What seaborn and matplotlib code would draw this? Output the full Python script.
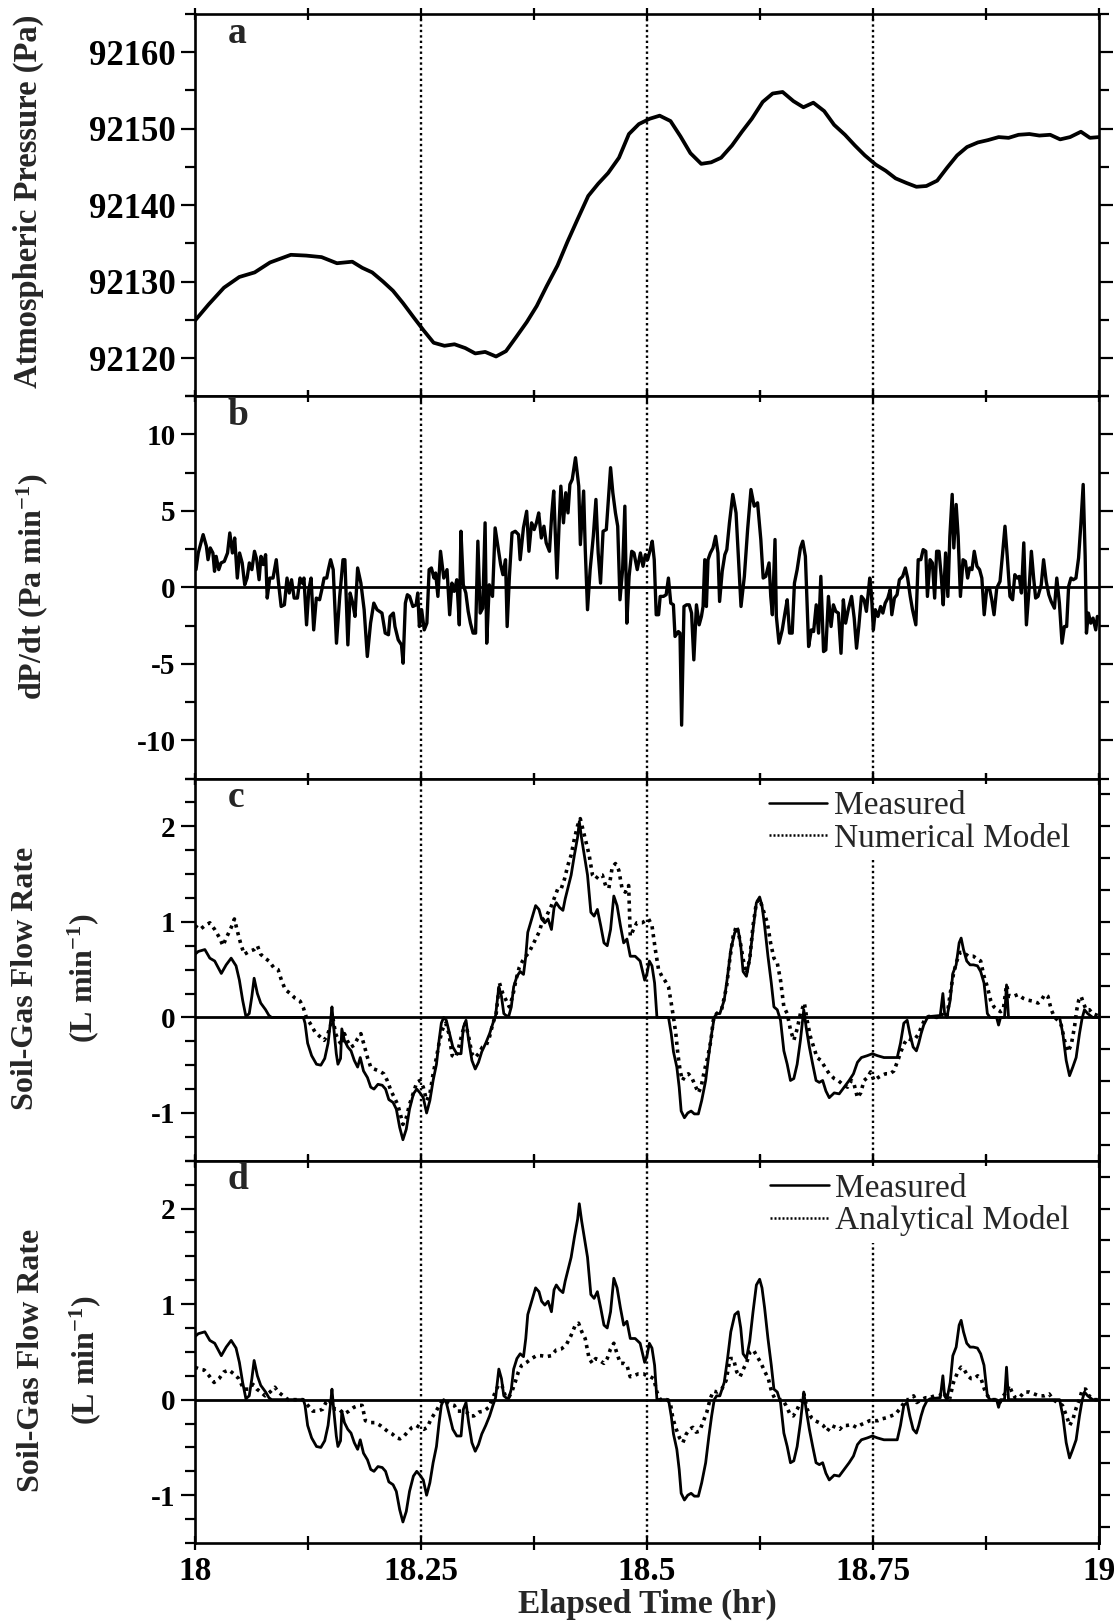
import matplotlib
matplotlib.use("Agg")
import matplotlib.pyplot as plt
from matplotlib.ticker import MultipleLocator, FixedLocator, FixedFormatter
from matplotlib.lines import Line2D
import seaborn as sns

# ---------------- data ----------------
# (a) atmospheric pressure, Pa
t_a = [18.000, 18.015, 18.032, 18.049, 18.066, 18.083, 18.106, 18.123, 18.140, 18.157,
       18.174, 18.185, 18.196, 18.208, 18.219, 18.230, 18.242, 18.253, 18.264, 18.276,
       18.287, 18.299, 18.310, 18.321, 18.333, 18.344, 18.355, 18.367, 18.378, 18.389,
       18.401, 18.412, 18.423, 18.435, 18.446, 18.457, 18.469, 18.480, 18.491, 18.503,
       18.514, 18.526, 18.537, 18.548, 18.560, 18.571, 18.582, 18.594, 18.605, 18.616,
       18.628, 18.639, 18.650, 18.662, 18.673, 18.684, 18.696, 18.707, 18.719, 18.730,
       18.741, 18.753, 18.764, 18.775, 18.787, 18.798, 18.809, 18.821, 18.832, 18.843,
       18.854, 18.866, 18.877, 18.889, 18.900, 18.911, 18.923, 18.934, 18.946, 18.957,
       18.968, 18.980, 18.990, 19.000]
p_a = [92124.9, 92127.0, 92129.2, 92130.6, 92131.2, 92132.5, 92133.5, 92133.4, 92133.2, 92132.4,
       92132.6, 92131.8, 92131.2, 92130.0, 92128.8, 92127.2, 92125.3, 92123.6, 92122.0, 92121.6,
       92121.8, 92121.3, 92120.6, 92120.8, 92120.2, 92120.9, 92122.7, 92124.7, 92126.8, 92129.4,
       92132.1, 92135.2, 92138.1, 92141.2, 92142.8, 92144.2, 92146.2, 92149.3, 92150.6, 92151.3,
       92151.7, 92151.0, 92149.0, 92146.8, 92145.4, 92145.6, 92146.2, 92147.8, 92149.6, 92151.3,
       92153.5, 92154.6, 92154.8, 92153.6, 92152.8, 92153.4, 92152.3, 92150.5, 92149.2, 92147.8,
       92146.5, 92145.3, 92144.5, 92143.5, 92142.9, 92142.4, 92142.5, 92143.2, 92144.9, 92146.5,
       92147.6, 92148.2, 92148.5, 92148.9, 92148.8, 92149.2, 92149.3, 92149.1, 92149.2, 92148.6,
       92148.9, 92149.6, 92148.8, 92148.9]

# (b) dP/dt, Pa/min
t_b = [18.0011, 18.0036, 18.0090, 18.0126, 18.0144, 18.0169, 18.0198, 18.0216, 18.0234, 18.0263,
       18.0288, 18.0324, 18.0360, 18.0385, 18.0414, 18.0439, 18.0468, 18.0493, 18.0522, 18.0550,
       18.0576, 18.0601, 18.0629, 18.0658, 18.0683, 18.0709, 18.0730, 18.0755, 18.0781, 18.0799,
       18.0827, 18.0863, 18.0899, 18.0924, 18.0953, 18.0989, 18.1018, 18.1043, 18.1068, 18.1097,
       18.1133, 18.1162, 18.1187, 18.1205, 18.1234, 18.1259, 18.1284, 18.1313, 18.1342, 18.1378,
       18.1403, 18.1428, 18.1457, 18.1475, 18.1500, 18.1529, 18.1565, 18.1601, 18.1637, 18.1658,
       18.1691, 18.1716, 18.1745, 18.1770, 18.1799, 18.1835, 18.1871, 18.1906, 18.1942, 18.1978,
       18.2014, 18.2068, 18.2104, 18.2140, 18.2158, 18.2194, 18.2212, 18.2248, 18.2284, 18.2302,
       18.2327, 18.2349, 18.2374, 18.2410, 18.2446, 18.2464, 18.2482, 18.2507, 18.2536, 18.2565,
       18.2590, 18.2615, 18.2644, 18.2662, 18.2687, 18.2716, 18.2752, 18.2788, 18.2817, 18.2842,
       18.2867, 18.2896, 18.2924, 18.2942, 18.2968, 18.2996, 18.3022, 18.3047, 18.3076, 18.3104,
       18.3129, 18.3155, 18.3183, 18.3209, 18.3227, 18.3255, 18.3291, 18.3320, 18.3345, 18.3381,
       18.3406, 18.3435, 18.3453, 18.3478, 18.3507, 18.3543, 18.3579, 18.3597, 18.3633, 18.3669,
       18.3694, 18.3723, 18.3752, 18.3777, 18.3802, 18.3831, 18.3860, 18.3885, 18.3921, 18.3946,
       18.3968, 18.4004, 18.4029, 18.4047, 18.4076, 18.4101, 18.4126, 18.4147, 18.4173, 18.4209,
       18.4245, 18.4263, 18.4299, 18.4317, 18.4342, 18.4371, 18.4388, 18.4406, 18.4435, 18.4460,
       18.4486, 18.4514, 18.4550, 18.4568, 18.4597, 18.4622, 18.4651, 18.4676, 18.4701, 18.4730,
       18.4755, 18.4777, 18.4802, 18.4831, 18.4856, 18.4892,
       18.4927, 18.4956, 18.4982, 18.5007, 18.5036, 18.5058, 18.5080, 18.5102, 18.5128, 18.5146,
       18.5182, 18.5212, 18.5237, 18.5263, 18.5292, 18.5310, 18.5347, 18.5365, 18.5383, 18.5409,
       18.5438, 18.5467, 18.5493, 18.5518, 18.5547, 18.5577, 18.5602, 18.5620, 18.5639, 18.5657,
       18.5675, 18.5701, 18.5730, 18.5759, 18.5785, 18.5803, 18.5832, 18.5861, 18.5883, 18.5912,
       18.5949, 18.5985, 18.6015, 18.6040, 18.6077, 18.6113, 18.6150, 18.6186, 18.6223, 18.6259,
       18.6285, 18.6314, 18.6350, 18.6369, 18.6387, 18.6416, 18.6431, 18.6460, 18.6496, 18.6526,
       18.6551, 18.6577, 18.6606, 18.6631, 18.6661, 18.6697, 18.6723, 18.6752, 18.6788, 18.6818,
       18.6843, 18.6872, 18.6898, 18.6923, 18.6953, 18.6978, 18.7007, 18.7036, 18.7062, 18.7088,
       18.7117, 18.7146, 18.7172, 18.7197, 18.7226, 18.7263, 18.7292, 18.7318, 18.7343, 18.7372,
       18.7401, 18.7427, 18.7464, 18.7482, 18.7504, 18.7526, 18.7555, 18.7584, 18.7609, 18.7635,
       18.7664, 18.7690, 18.7708, 18.7737, 18.7766, 18.7792, 18.7828, 18.7858, 18.7883, 18.7912,
       18.7937, 18.7974, 18.8000, 18.8029, 18.8055, 18.8084, 18.8102, 18.8131, 18.8157, 18.8182,
       18.8204, 18.8230, 18.8255, 18.8277, 18.8303, 18.8328, 18.8350, 18.8376, 18.8394, 18.8420,
       18.8442, 18.8467, 18.8496, 18.8522, 18.8547, 18.8569, 18.8595, 18.8620, 18.8650, 18.8679,
       18.8704, 18.8730, 18.8759, 18.8788, 18.8814, 18.8839, 18.8869, 18.8905, 18.8934, 18.8960,
       18.8985, 18.9015, 18.9044, 18.9069, 18.9095, 18.9117, 18.9142, 18.9168, 18.9197, 18.9226,
       18.9252, 18.9277, 18.9299, 18.9325, 18.9361, 18.9387, 18.9416, 18.9445, 18.9471, 18.9507,
       18.9533, 18.9562, 18.9591, 18.9617, 18.9642, 18.9664, 18.9690, 18.9715, 18.9745, 18.9774,
       18.9799, 18.9825, 18.9847, 18.9861, 18.9883, 18.9909, 18.9934, 18.9964, 18.9982]
dpdt_b = [1.16, 2.25, 3.45, 2.69, 1.81, 2.58, 2.25, 1.05, 2.03, 1.16,
          1.60, 1.70, 2.25, 3.56, 2.25, 3.23, 0.61, 2.25, 1.60, 0.17,
          0.61, 1.60, 1.16, 2.36, 1.81, 0.50, 2.03, 1.49, 2.14, -0.70,
          0.61, 0.61, 1.81, 0.28, -1.25, -1.14, 0.61, -0.37, 0.50, -0.70,
          -0.70, 0.61, 0.28, 0.61, -2.45, -0.15, 0.61, -2.78, -0.70, -0.81,
          -0.15, 0.61, 0.61, 1.16, 1.81, 1.16, -3.65, -0.59, 1.81, 1.81,
          -3.76, -0.37, -1.03, -1.90, 1.27, 0.28, -1.46, -4.52, -2.34, -1.03,
          -1.46, -1.68, -2.99, -3.10, -1.90, -1.68, -2.56, -3.43, -3.76, -4.96,
          -1.03, -0.48, -0.59, -1.25, -1.14, -0.37, -2.56, -1.46, -2.78, -2.34,
          1.16, 1.27, 0.61, 0.94, -0.59, 2.36, 0.61, 1.16, -1.79, 0.28,
          -0.26, 0.50, -2.45, 3.67, 0.17, -0.37, -1.57, -2.34, -2.99, -2.99,
          3.02, -1.68, -1.36, 4.22, -3.65, 0.17, -0.59, 3.89, 2.91, 1.49,
          0.83, 1.81, -2.56, 0.72, 3.56, 3.67, 3.45, 1.81, 3.89, 4.98,
          2.36, 4.22, 3.78, 4.22, 4.87, 3.23, 4.00, 2.91, 2.36, 4.77,
          6.30, 0.61, 4.33, 6.62, 4.22, 6.19, 4.87, 6.73, 7.06, 8.48,
          6.62, 2.80, 6.30, 2.47, -1.46, 1.16, 2.25, 3.34, 5.75, 2.25,
          0.28, 3.67, 3.78, 5.31, 7.83, 6.19, 4.87, 4.00, -0.81, 1.16,
          5.31, -2.34, 0.72, 2.36, 2.25, 1.16,
          2.25, 1.38, 2.14, 1.81, 2.47, 3.02, 1.81, -1.79, -1.79, -0.59,
          -0.59, -0.48, 0.61, -1.03, -1.14, -3.21, -2.89, -2.99, -9.01, -1.25,
          -1.14, -1.14, -1.68, -4.74, -1.14, -2.45, -1.90, -1.25, 1.81, -1.25,
          1.81, 2.25, 2.58, 3.34, 2.25, -0.92, 1.05, 2.14, 2.47, 4.22,
          6.08, 4.87, 1.60, -1.25, 0.72, 3.78, 6.40, 5.31, 5.53, 3.13,
          0.61, 0.72, 1.60, -0.59, -1.79, 3.13, -1.90, -3.65, -2.78, -1.68,
          -0.81, -2.99, -2.99, 0.28, 1.16, 2.58, 3.02, 2.03, -3.87, -2.78,
          -2.89, -1.14, -2.99, 0.72, -4.20, -4.09, -0.59, -2.56, -1.14, -1.57,
          -1.68, -4.31, -0.81, -2.34, -1.46, -0.59, -2.01, -3.98, -2.56, -0.59,
          -0.81, -1.57, 0.61, -0.37, -2.78, -1.46, -1.90, -1.25, -1.68, -1.03,
          -0.70, -0.15, -1.79, -0.70, -0.48, 0.50, 0.72, 1.27, 0.61, -0.59,
          -1.46, -2.45, 1.81, 1.81, 2.47, 2.36, -0.59, 1.81, 1.60, -0.70,
          2.36, 2.36, 0.72, -1.14, 2.25, -0.59, 3.34, 6.08, 2.58, 5.42,
          3.34, -0.59, 1.81, 1.70, 0.61, 1.27, 1.16, 2.36, 1.38, 1.16,
          0.61, -1.79, -0.04, -0.04, -0.81, -1.79, -0.04, 0.39, 2.25, 4.00,
          2.03, -0.59, -0.81, 0.83, 0.61, 0.72, -0.37, 2.91, -2.45, -0.15,
          2.36, 0.61, -0.70, -0.59, 0.17, 1.81, 0.39, -0.48, -0.92, -1.36,
          0.61, -1.03, -3.65, -2.56, -2.56, 0.07, 0.61, 0.50, 0.61, 1.92,
          4.11, 6.73, 2.03, -2.99, -1.68, -2.34, -2.01, -2.78, -1.90]

# measured soil-gas flow rate, L/min (panels c and d)
t_meas = [18.0000, 18.0036, 18.0109, 18.0164, 18.0218, 18.0291, 18.0345, 18.0400, 18.0454, 18.0491,
          18.0527, 18.0563, 18.0600, 18.0629, 18.0654, 18.0690, 18.0727, 18.0781, 18.0818, 18.0847,
          18.1199, 18.1217, 18.1246, 18.1290, 18.1344, 18.1392, 18.1435, 18.1472, 18.1501, 18.1515,
          18.1537, 18.1563, 18.1581, 18.1610, 18.1624, 18.1653, 18.1690, 18.1726, 18.1762, 18.1799,
          18.1828, 18.1864, 18.1908, 18.1944, 18.1980, 18.2024, 18.2071, 18.2108, 18.2144, 18.2191,
          18.2227, 18.2264, 18.2300, 18.2337, 18.2373, 18.2416, 18.2453, 18.2489, 18.2525, 18.2562,
          18.2598, 18.2634, 18.2671, 18.2700, 18.2725, 18.2751, 18.2780, 18.2816, 18.2852, 18.2896,
          18.2943, 18.2969, 18.2998, 18.3027, 18.3063, 18.3100, 18.3136, 18.3172, 18.3216, 18.3259,
          18.3296, 18.3325, 18.3361, 18.3390, 18.3416, 18.3441, 18.3470, 18.3499, 18.3525, 18.3561,
          18.3597, 18.3634, 18.3659, 18.3681, 18.3725, 18.3768, 18.3805, 18.3834, 18.3870, 18.3906,
          18.3943, 18.3972, 18.3997, 18.4033, 18.4070, 18.4095, 18.4124, 18.4161, 18.4197, 18.4233,
          18.4251, 18.4277, 18.4306, 18.4342, 18.4379, 18.4415, 18.4451, 18.4488, 18.4524, 18.4560,
          18.4597, 18.4633, 18.4669, 18.4706, 18.4742, 18.4778, 18.4815, 18.4869, 18.4924, 18.4974,
          18.5000, 18.5026, 18.5055, 18.5084, 18.5110, 18.5238, 18.5268, 18.5293, 18.5330, 18.5356,
          18.5378, 18.5414, 18.5451, 18.5488, 18.5524, 18.5568, 18.5605, 18.5649, 18.5685, 18.5715,
          18.5744, 18.5770, 18.5806, 18.5854, 18.5891, 18.5927, 18.5971, 18.6008, 18.6037, 18.6063,
          18.6100, 18.6136, 18.6173, 18.6210, 18.6246, 18.6272, 18.6301, 18.6338, 18.6375, 18.6404,
          18.6441, 18.6477, 18.6514, 18.6551, 18.6587, 18.6624, 18.6661, 18.6697, 18.6734, 18.6760,
          18.6796, 18.6833, 18.6870, 18.6906, 18.6943, 18.6979, 18.7016, 18.7071, 18.7126, 18.7181,
          18.7236, 18.7284, 18.7328, 18.7372, 18.7438, 18.7493, 18.7548, 18.7621, 18.7694, 18.7768,
          18.7804, 18.7841, 18.7878, 18.7907, 18.7944, 18.7980, 18.8006, 18.8032, 18.8061, 18.8098,
          18.8134, 18.8244, 18.8273, 18.8292, 18.8317, 18.8354, 18.8383, 18.8420, 18.8453, 18.8475,
          18.8501, 18.8537, 18.8574, 18.8611, 18.8655, 18.8691, 18.8728, 18.8765, 18.8794, 18.8867,
          18.8889, 18.8911, 18.8955, 18.8977, 18.8999, 18.9564, 18.9600, 18.9637, 18.9674, 18.9710,
          18.9747, 18.9784, 18.9813, 18.9839, 18.9875, 18.9930, 18.9985]
q_meas = [0.66, 0.69, 0.71, 0.62, 0.59, 0.46, 0.55, 0.62, 0.54, 0.39,
          0.18, 0.01, 0.04, 0.22, 0.41, 0.25, 0.15, 0.08, 0.02, 0.00,
          0.00, -0.06, -0.27, -0.40, -0.49, -0.50, -0.43, -0.27, -0.03, 0.11,
          -0.13, -0.38, -0.49, -0.43, -0.12, -0.24, -0.31, -0.35, -0.45, -0.52,
          -0.42, -0.56, -0.63, -0.73, -0.75, -0.70, -0.71, -0.75, -0.86, -0.89,
          -0.96, -1.15, -1.28, -1.17, -0.96, -0.80, -0.75, -0.79, -0.84, -1.00,
          -0.87, -0.66, -0.49, -0.24, -0.06, 0.00, -0.03, -0.17, -0.31, -0.38,
          -0.38, -0.10, -0.03, -0.24, -0.45, -0.54, -0.47, -0.36, -0.27, -0.17,
          -0.06, 0.02, 0.32, 0.22, 0.04, 0.02, 0.01, 0.11, 0.32, 0.43,
          0.48, 0.45, 0.64, 0.89, 1.03, 1.17, 1.13, 1.03, 0.99, 1.03,
          0.92, 1.15, 1.20, 1.15, 1.12, 1.24, 1.35, 1.49, 1.70, 1.89,
          2.05, 1.87, 1.70, 1.49, 1.10, 1.06, 1.13, 0.96, 0.78, 0.75,
          0.92, 1.27, 1.17, 0.96, 0.78, 0.82, 0.64, 0.64, 0.59, 0.39,
          0.46, 0.59, 0.54, 0.36, 0.00, 0.00, -0.17, -0.36, -0.52, -0.73,
          -0.98, -1.05, -1.00, -0.98, -1.01, -1.01, -0.87, -0.66, -0.38, -0.17,
          0.00, 0.04, 0.04, 0.18, 0.43, 0.71, 0.89, 0.92, 0.75, 0.48,
          0.43, 0.61, 0.92, 1.20, 1.26, 1.17, 0.96, 0.64, 0.36, 0.11,
          0.08, -0.03, -0.35, -0.49, -0.66, -0.64, -0.49, -0.24, 0.08, -0.10,
          -0.31, -0.49, -0.66, -0.68, -0.66, -0.77, -0.84, -0.79, -0.80, -0.73,
          -0.66, -0.59, -0.47, -0.42, -0.40, -0.38, -0.40, -0.42, -0.42, -0.42,
          -0.27, -0.06, -0.03, -0.17, -0.31, -0.35, -0.27, -0.17, -0.08, -0.01,
          0.01, 0.02, 0.25, 0.04, 0.00, 0.18, 0.46, 0.55, 0.78, 0.83,
          0.71, 0.59, 0.55, 0.55, 0.54, 0.48, 0.36, 0.04, 0.00, 0.00,
          -0.08, 0.00, 0.00, 0.34, 0.00, 0.00, -0.17, -0.45, -0.61, -0.52,
          -0.42, -0.17, -0.01, 0.08, 0.04, 0.00, 0.00]

# numerical model, L/min (panel c)
t_num = [18.0000, 18.0055, 18.0109, 18.0164, 18.0218, 18.0273, 18.0309, 18.0345, 18.0400, 18.0436,
         18.0472, 18.0509, 18.0545, 18.0600, 18.0654, 18.0690, 18.0727, 18.0774, 18.0818, 18.0872,
         18.0919, 18.0956, 18.0999, 18.1054, 18.1108, 18.1163, 18.1199, 18.1235, 18.1272, 18.1326,
         18.1381, 18.1428, 18.1464, 18.1501, 18.1526, 18.1555, 18.1588, 18.1624, 18.1653, 18.1682,
         18.1726, 18.1762, 18.1799, 18.1835, 18.1871, 18.1908, 18.1944, 18.1980, 18.2035, 18.2089,
         18.2126, 18.2169, 18.2206, 18.2242, 18.2271, 18.2300, 18.2337, 18.2373, 18.2416, 18.2453,
         18.2489, 18.2525, 18.2562, 18.2598, 18.2634, 18.2671, 18.2700, 18.2736, 18.2773, 18.2809,
         18.2845, 18.2882, 18.2918, 18.2954, 18.2991, 18.3027, 18.3063, 18.3100, 18.3136, 18.3180,
         18.3223, 18.3259, 18.3296, 18.3332, 18.3368, 18.3405, 18.3441, 18.3477, 18.3514, 18.3550,
         18.3586, 18.3623, 18.3659, 18.3695, 18.3732, 18.3768, 18.3805, 18.3852, 18.3888, 18.3943,
         18.3979, 18.4015, 18.4052, 18.4088, 18.4124, 18.4161, 18.4197, 18.4233, 18.4262, 18.4288,
         18.4324, 18.4360, 18.4397, 18.4433, 18.4469, 18.4506, 18.4542, 18.4578, 18.4615, 18.4651,
         18.4688, 18.4724, 18.4760, 18.4797, 18.4815, 18.4851, 18.4887, 18.4945, 18.5018, 18.5055,
         18.5092, 18.5128, 18.5165, 18.5202, 18.5238, 18.5268, 18.5293, 18.5319, 18.5341, 18.5367,
         18.5392, 18.5422, 18.5458, 18.5495, 18.5532, 18.5568, 18.5598, 18.5634, 18.5671, 18.5707,
         18.5733, 18.5770, 18.5825, 18.5880, 18.5916, 18.5953, 18.5990, 18.6026, 18.6063, 18.6100,
         18.6136, 18.6173, 18.6210, 18.6246, 18.6283, 18.6331, 18.6367, 18.6404, 18.6441, 18.6477,
         18.6514, 18.6551, 18.6587, 18.6624, 18.6661, 18.6697, 18.6741, 18.6771, 18.6807, 18.6844,
         18.6881, 18.6924, 18.6968, 18.7016, 18.7071, 18.7115, 18.7163, 18.7218, 18.7262, 18.7291,
         18.7328, 18.7364, 18.7401, 18.7438, 18.7474, 18.7511, 18.7555, 18.7592, 18.7639, 18.7687,
         18.7731, 18.7775, 18.7812, 18.7848, 18.7885, 18.7933, 18.7969, 18.8006, 18.8043, 18.8079,
         18.8116, 18.8207, 18.8244, 18.8281, 18.8317, 18.8354, 18.8391, 18.8427, 18.8464, 18.8501,
         18.8556, 18.8611, 18.8655, 18.8691, 18.8728, 18.8765, 18.8801, 18.8838, 18.8875, 18.8911,
         18.8941, 18.8977, 18.9007, 18.9051, 18.9106, 18.9161, 18.9216, 18.9271, 18.9326, 18.9362,
         18.9399, 18.9435, 18.9472, 18.9509, 18.9545, 18.9582, 18.9619, 18.9655, 18.9692, 18.9729,
         18.9754, 18.9776, 18.9802, 18.9828, 18.9857, 18.9894, 18.9930, 18.9985]
q_num = [0.96, 0.92, 0.96, 0.99, 0.92, 0.83, 0.75, 0.83, 0.94, 1.03,
         0.89, 0.76, 0.66, 0.69, 0.71, 0.75, 0.66, 0.62, 0.59, 0.52,
         0.50, 0.39, 0.29, 0.25, 0.20, 0.17, 0.10, -0.01, -0.06, -0.15,
         -0.20, -0.24, -0.19, -0.08, -0.01, -0.17, -0.24, -0.29, -0.17, -0.24,
         -0.31, -0.29, -0.22, -0.17, -0.29, -0.42, -0.52, -0.54, -0.56, -0.59,
         -0.66, -0.77, -0.84, -0.91, -1.01, -1.12, -1.05, -0.91, -0.79, -0.68,
         -0.66, -0.73, -0.87, -0.80, -0.59, -0.42, -0.27, -0.13, -0.06, -0.17,
         -0.40, -0.42, -0.31, -0.17, -0.06, -0.20, -0.38, -0.42, -0.38, -0.31,
         -0.29, -0.20, -0.06, 0.04, 0.36, 0.25, 0.18, 0.11, 0.22, 0.39,
         0.52, 0.59, 0.64, 0.68, 0.75, 0.82, 0.89, 1.03, 1.06, 1.17,
         1.26, 1.35, 1.35, 1.45, 1.59, 1.70, 1.87, 2.01, 2.08, 1.98,
         1.84, 1.70, 1.49, 1.45, 1.49, 1.49, 1.38, 1.35, 1.57, 1.61,
         1.54, 1.35, 1.31, 1.38, 0.85, 0.92, 0.99, 0.99, 1.03, 0.96,
         0.71, 0.50, 0.43, 0.38, 0.32, 0.15, 0.00, -0.17, -0.38, -0.56,
         -0.66, -0.61, -0.59, -0.63, -0.71, -0.79, -0.73, -0.56, -0.42, -0.24,
         -0.03, 0.04, 0.08, 0.32, 0.61, 0.85, 0.96, 0.82, 0.61, 0.46,
         0.61, 0.96, 1.20, 1.24, 1.13, 0.99, 0.78, 0.62, 0.57, 0.39,
         0.11, 0.04, -0.13, -0.24, -0.12, 0.04, 0.15, -0.03, -0.20, -0.31,
         -0.42, -0.45, -0.52, -0.59, -0.64, -0.66, -0.70, -0.73, -0.66, -0.70,
         -0.84, -0.79, -0.66, -0.63, -0.57, -0.66, -0.63, -0.61, -0.59, -0.59,
         -0.56, -0.45, -0.35, -0.27, -0.22, -0.24, -0.22, -0.17, -0.08, -0.01,
         0.01, 0.00, 0.04, 0.02, 0.00, 0.25, 0.46, 0.59, 0.68, 0.68,
         0.64, 0.64, 0.61, 0.59, 0.43, 0.32, 0.18, 0.11, 0.08, 0.06,
         0.08, 0.34, 0.22, 0.22, 0.24, 0.20, 0.18, 0.17, 0.15, 0.18,
         0.24, 0.22, 0.08, 0.00, -0.03, -0.08, -0.24, -0.36, -0.29, -0.10,
         0.08, 0.18, 0.22, 0.15, 0.08, 0.08, 0.04, 0.02]

# analytical model, L/min (panel d)
t_ana = [18.0000, 18.0047, 18.0102, 18.0156, 18.0211, 18.0266, 18.0320, 18.0375, 18.0429, 18.0484,
         18.0539, 18.0593, 18.0641, 18.0684, 18.0728, 18.0775, 18.0830, 18.0884, 18.0921, 18.0975,
         18.1030, 18.1194, 18.1248, 18.1303, 18.1357, 18.1412, 18.1448, 18.1485, 18.1521, 18.1557,
         18.1594, 18.1648, 18.1703, 18.1758, 18.1812, 18.1849, 18.1885, 18.1940, 18.1994, 18.2049,
         18.2103, 18.2140, 18.2183, 18.2231, 18.2267, 18.2314, 18.2358, 18.2402, 18.2449, 18.2485,
         18.2533, 18.2569, 18.2613, 18.2667, 18.2722, 18.2758, 18.2795, 18.2831, 18.2868, 18.2904,
         18.2959, 18.3006, 18.3042, 18.3086, 18.3141, 18.3195, 18.3250, 18.3286, 18.3322, 18.3359,
         18.3395, 18.3432, 18.3468, 18.3504, 18.3541, 18.3577, 18.3614, 18.3668, 18.3723, 18.3777,
         18.3832, 18.3886, 18.3941, 18.3996, 18.4050, 18.4105, 18.4159, 18.4207, 18.4243, 18.4279,
         18.4316, 18.4360, 18.4396, 18.4432, 18.4476, 18.4523, 18.4560, 18.4596, 18.4633, 18.4669,
         18.4705, 18.4742, 18.4778, 18.4814, 18.4851, 18.4905, 18.4960, 18.5000, 18.5037, 18.5074,
         18.5110, 18.5147, 18.5221, 18.5257, 18.5287, 18.5324, 18.5360, 18.5397, 18.5434, 18.5471,
         18.5507, 18.5544, 18.5581, 18.5618, 18.5662, 18.5699, 18.5735, 18.5779, 18.5827, 18.5875,
         18.5919, 18.5956, 18.5993, 18.6029, 18.6066, 18.6103, 18.6140, 18.6176, 18.6213, 18.6257,
         18.6305, 18.6342, 18.6379, 18.6415, 18.6452, 18.6500, 18.6537, 18.6581, 18.6618, 18.6662,
         18.6710, 18.6735, 18.6772, 18.6820, 18.6857, 18.6904, 18.6949, 18.6993, 18.7040, 18.7088,
         18.7132, 18.7169, 18.7213, 18.7261, 18.7316, 18.7371, 18.7419, 18.7463, 18.7507, 18.7555,
         18.7603, 18.7647, 18.7702, 18.7750, 18.7794, 18.7831, 18.7868, 18.7904, 18.7949, 18.7985,
         18.8033, 18.8081, 18.8125, 18.8180, 18.8235, 18.8272, 18.8309, 18.8346, 18.8390, 18.8438,
         18.8474, 18.8511, 18.8548, 18.8585, 18.8621, 18.8658, 18.8695, 18.8732, 18.8768, 18.8805,
         18.8860, 18.8904, 18.8941, 18.8978, 18.9007, 18.9037, 18.9074, 18.9118, 18.9173, 18.9228,
         18.9283, 18.9338, 18.9393, 18.9449, 18.9493, 18.9540, 18.9596, 18.9640, 18.9676, 18.9713,
         18.9750, 18.9787, 18.9816, 18.9853, 18.9890, 18.9945, 19.0000]
q_ana = [0.34, 0.32, 0.31, 0.25, 0.18, 0.22, 0.29, 0.31, 0.27, 0.22,
         0.11, 0.11, 0.16, 0.11, 0.08, 0.04, 0.08, 0.13, 0.08, 0.04,
         0.00, 0.00, -0.06, -0.12, -0.12, -0.10, -0.03, 0.00, -0.08, -0.10,
         -0.10, -0.15, -0.12, -0.08, -0.06, -0.06, -0.22, -0.24, -0.24, -0.27,
         -0.31, -0.34, -0.36, -0.40, -0.41, -0.38, -0.33, -0.29, -0.27, -0.29,
         -0.31, -0.29, -0.20, -0.12, -0.03, 0.00, -0.03, -0.05, -0.06, -0.12,
         -0.12, -0.13, -0.17, -0.17, -0.13, -0.12, -0.08, 0.00, 0.08, 0.16,
         0.15, 0.04, 0.02, 0.08, 0.18, 0.29, 0.36, 0.39, 0.43, 0.46,
         0.46, 0.45, 0.46, 0.52, 0.53, 0.57, 0.67, 0.78, 0.80, 0.71,
         0.64, 0.43, 0.38, 0.43, 0.41, 0.38, 0.43, 0.53, 0.59, 0.48,
         0.38, 0.38, 0.36, 0.24, 0.25, 0.27, 0.27, 0.25, 0.24, 0.22,
         0.08, 0.00, 0.00, -0.03, -0.20, -0.31, -0.40, -0.45, -0.36, -0.31,
         -0.29, -0.34, -0.33, -0.24, -0.13, 0.01, 0.09, 0.08, 0.11, 0.20,
         0.43, 0.43, 0.29, 0.24, 0.32, 0.39, 0.50, 0.52, 0.46, 0.39,
         0.29, 0.22, 0.08, 0.01, 0.00, 0.00, -0.06, -0.15, -0.17, -0.10,
         0.00, 0.06, -0.10, -0.19, -0.22, -0.24, -0.27, -0.33, -0.27, -0.29,
         -0.31, -0.27, -0.27, -0.26, -0.29, -0.26, -0.24, -0.22, -0.22, -0.22,
         -0.20, -0.19, -0.17, -0.15, -0.10, -0.05, 0.00, 0.00, 0.04, -0.03,
         0.00, 0.02, 0.02, 0.04, 0.04, 0.08, 0.04, 0.00, 0.18, 0.29,
         0.34, 0.31, 0.25, 0.22, 0.22, 0.25, 0.22, 0.11, 0.04, 0.00,
         0.00, -0.03, 0.04, 0.08, 0.15, 0.08, 0.02, 0.02, 0.08, 0.08,
         0.06, 0.04, 0.04, 0.06, 0.00, -0.03, -0.06, -0.17, -0.27, -0.20,
         -0.08, 0.01, 0.11, 0.11, 0.04, 0.00, 0.00]

x_ticks = [18.0, 18.25, 18.5, 18.75, 19.0]
x_tick_labels = ["18", "18.25", "18.5", "18.75", "19"]
ref_times = [18.25, 18.5, 18.75]

yt_a = [92120, 92130, 92140, 92150, 92160]
yl_a = ["92120", "92130", "92140", "92150", "92160"]
yt_b = [-10, -5, 0, 5, 10]
yl_b = ["-10", "-5", "0", "5", "10"]
yt_q = [-1, 0, 1, 2]
yl_q = ["-1", "0", "1", "2"]

panel_letters = ["a", "b", "c", "d"]
ylabels = ["Atmospheric Pressure (Pa)", r"dP/dt (Pa min$^{\mathbf{-1}}$)",
           "Soil-Gas Flow Rate\n" + r"(L min$^{\mathbf{-1}}$)",
           "Soil-Gas Flow Rate\n" + r"(L min$^{\mathbf{-1}}$)"]
legend_c = ["Measured", "Numerical Model"]
legend_d = ["Measured", "Analytical Model"]

# ---------------- style ----------------
sns.set_theme(style="ticks")
plt.rcParams["font.family"] = ["Liberation Serif", "DejaVu Serif"]
plt.rcParams["font.weight"] = "bold"
plt.rcParams["mathtext.fontset"] = "custom"
plt.rcParams["mathtext.rm"] = "Liberation Serif:bold"
plt.rcParams["mathtext.bf"] = "Liberation Serif:bold"
plt.rcParams["mathtext.default"] = "bf"
plt.rcParams["axes.unicode_minus"] = False

W, H = 1117, 1622
fig = plt.figure(figsize=(W / 100, H / 100), dpi=100)
gs = fig.add_gridspec(4, 1, left=195 / W, right=1099 / W, top=1 - 14 / H,
                      bottom=1 - 1543 / H, hspace=0)
axes = [fig.add_subplot(gs[i]) for i in range(4)]
for ax in axes[1:]:
    ax.sharex(axes[0])

LW_SP = 1.9

def style_axis(ax, yticks, ylabels_, ylim, yminor, fs, right_same=True):
    ax.set_xlim(18, 19)
    ax.set_ylim(*ylim)
    ax.xaxis.set_major_locator(FixedLocator(x_ticks))
    ax.xaxis.set_minor_locator(MultipleLocator(0.125))
    ax.yaxis.set_major_locator(FixedLocator(yticks))
    ax.yaxis.set_major_formatter(FixedFormatter(ylabels_))
    ax.yaxis.set_minor_locator(MultipleLocator(yminor))
    for sp in ax.spines.values():
        sp.set_visible(True)
        sp.set_linewidth(LW_SP)
        sp.set_color("black")
    ax.tick_params(axis="y", which="major", direction="out", length=10, width=1.6,
                   labelsize=fs, pad=4, left=True, right=right_same, colors="black")
    ax.tick_params(axis="y", which="minor", direction="out", length=7, width=1.6,
                   left=True, right=right_same, colors="black")
    ax.tick_params(axis="x", which="both", direction="inout", length=8, width=1.6,
                   top=True, bottom=True, labelbottom=False, colors="black")
    for lbl in ax.get_yticklabels():
        lbl.set_fontweight("bold")
    for t in ref_times:
        ax.axvline(t, color="black", lw=1.7, ls=(0, (1, 1.3)), zorder=1)
    ax.set_facecolor("white")
    ax.set_xlabel("")
    ax.set_ylabel("")

# panel a
ax = axes[0]
sns.lineplot(x=t_a, y=p_a, ax=ax, color="black", lw=2.7, estimator=None, sort=False)
style_axis(ax, yt_a, yl_a, (92115, 92165), 5, 25)

# panel b
ax = axes[1]
sns.lineplot(x=t_b, y=dpdt_b, ax=ax, color="black", lw=2.4, estimator=None, sort=False)
ax.axhline(0, color="black", lw=2.0, zorder=1)
style_axis(ax, yt_b, yl_b, (-12.5, 12.5), 2.5, 21)

# panel c and d
def flow_panel(ax, t_model, q_model, labels):
    ax.axhline(0, color="black", lw=2.0, zorder=1)
    sns.lineplot(x=t_meas, y=q_meas, ax=ax, color="black", lw=2.0, estimator=None, sort=False)
    sns.lineplot(x=t_model, y=q_model, ax=ax, color="black", lw=2.6,
                 linestyle=(0, (0.9, 1.3)), estimator=None, sort=False)
    style_axis(ax, yt_q, yl_q, (-1.5, 2.5), 0.25, 21, right_same=False)
    sec = ax.secondary_yaxis("right", functions=(lambda v: v * 3, lambda v: v / 3))
    sec.yaxis.set_major_locator(MultipleLocator(1))
    sec.tick_params(axis="y", direction="out", length=8, width=1.6, labelright=False,
                    colors="black")
    sec.spines["right"].set_linewidth(LW_SP)
    handles = [Line2D([], [], color="black", lw=1.8),
               Line2D([], [], color="black", lw=1.8, linestyle=(0, (0.8, 0.8)))]
    leg = ax.legend(handles, labels, loc="upper right", bbox_to_anchor=(0.975, 0.985),
                    frameon=True, facecolor="white", edgecolor="none", framealpha=1,
                    prop={"family": "Liberation Serif", "weight": "normal", "size": 24},
                    handlelength=1.75, handletextpad=0.2, labelspacing=0.05,
                    borderpad=0.2, borderaxespad=0)
    leg.set_zorder(5)

flow_panel(axes[2], t_num, q_num, legend_c)
flow_panel(axes[3], t_ana, q_ana, legend_d)

# bottom x axis
ax = axes[3]
ax.xaxis.set_major_formatter(FixedFormatter(x_tick_labels))
ax.tick_params(axis="x", which="both", labelbottom=True, labelsize=24, pad=4, length=10)
for lbl in ax.get_xticklabels():
    lbl.set_fontweight("bold")
ax.set_xlabel("Elapsed Time (hr)", fontsize=24, fontweight="bold")
ax.xaxis.set_label_coords(0.5, -(1589 - 1543) / 385)
ax.xaxis.label.set_va("top")

# panel letters
for ax, letter in zip(axes, panel_letters):
    ax.text(0.036, 0.996, letter, transform=ax.transAxes, ha="left", va="top",
            fontsize=27, fontweight="bold", zorder=6)

# y labels placed in figure pixels: (x, y, fontsize, linespacing)
ylab_pos = [(28, 201, 23.5, 1.0), (32, 587, 23, 1.0), (56, 978, 23, 1.9), (60, 1360, 23, 1.8)]
for (px, py, fs, ls), txt in zip(ylab_pos, ylabels):
    fig.text(px / W, 1 - py / H, txt, rotation=90, ha="center", va="center",
             fontsize=fs, fontweight="bold", linespacing=ls, multialignment="center")

fig.savefig("out.png", dpi=100, facecolor="white")
